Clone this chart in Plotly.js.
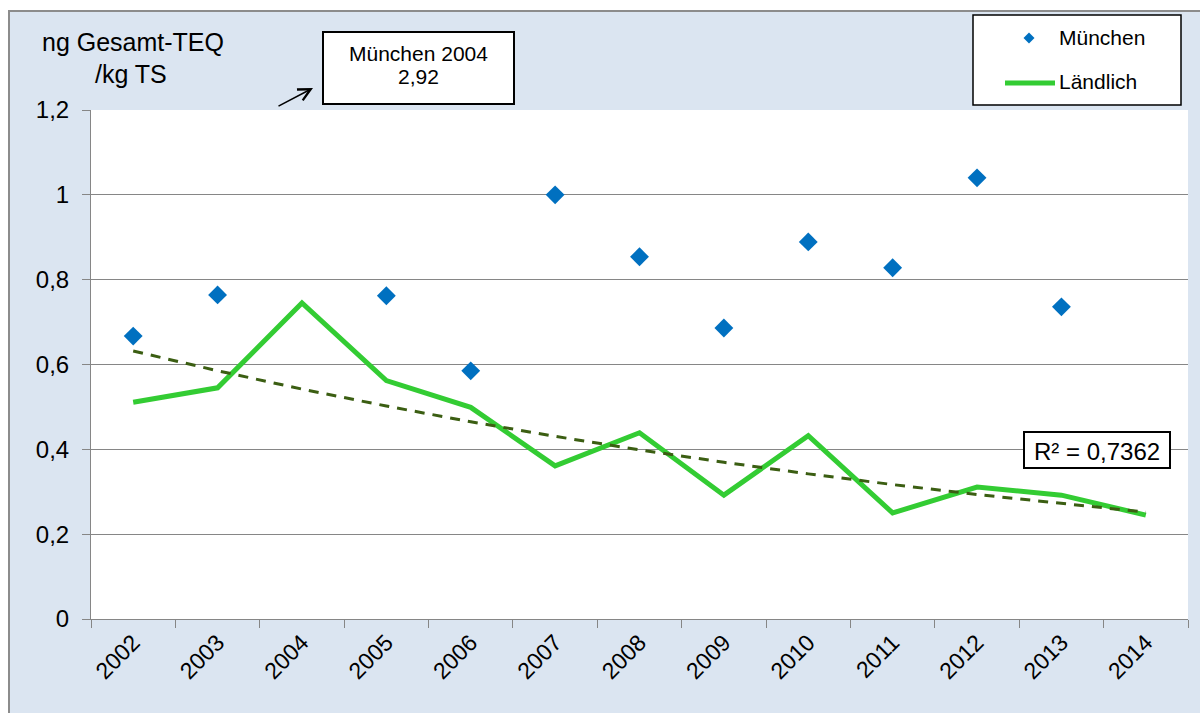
<!DOCTYPE html>
<html>
<head>
<meta charset="utf-8">
<script src="https://cdn.plot.ly/plotly-3.0.1.min.js"></script>
<style>
html,body{margin:0;padding:0;background:#ffffff;overflow:hidden;}
#chart{position:absolute;left:8px;top:10px;width:1192px;height:703px;border-left:2px solid #8c8c8c;border-top:2px solid #8c8c8c;}
</style>
</head>
<body>
<div id="chart"></div>
<script>
const years = ['2002','2003','2004','2005','2006','2007','2008','2009','2010','2011','2012','2013','2014'];
const muenchen = [0.667, 0.764, null, 0.762, 0.585, 1.0, 0.854, 0.686, 0.889, 0.828, 1.04, 0.736, null];
const laendlich = [0.511, 0.545, 0.745, 0.562, 0.499, 0.361, 0.439, 0.292, 0.432, 0.25, 0.311, 0.292, 0.245];
const yTickVals = [0, 0.2, 0.4, 0.6, 0.8, 1, 1.2];
const yTickText = ['0', '0,2', '0,4', '0,6', '0,8', '1', '1,2'];
const seriesNames = ['München', 'Ländlich'];
const yTitleLines = ['ng Gesamt-TEQ', '/kg TS'];
const noteLines = ['München 2004', '2,92'];
const rSquaredLabel = 'R² = 0,7362';

// exponential trendline fitted to Ländlich (least squares on ln y)
const idx = laendlich.map((v, i) => i + 1);
const n = idx.length;
const ly = laendlich.map(v => Math.log(v));
const mx = idx.reduce((p, q) => p + q, 0) / n;
const my = ly.reduce((p, q) => p + q, 0) / n;
let sxy = 0, sxx = 0;
for (let i = 0; i < n; i++) { sxy += (idx[i] - mx) * (ly[i] - my); sxx += (idx[i] - mx) ** 2; }
const bcoef = sxy / sxx, acoef = my - bcoef * mx;
const trend = idx.map(x => Math.exp(acoef + bcoef * x));

const FONT = '"Liberation Sans", Arial, sans-serif';
const GREEN = '#33cc33', BLUE = '#0070c0';

// page-pixel -> paper coordinate helpers (plot area: x 91..1188, y 110..619 on page)
const PL = 91, PR = 1188, PT = 110, PB = 619;
const X = px => (px - PL) / (PR - PL);
const Y = py => (PB - py) / (PB - PT);

function textAnno(txt, px, py, size, xanchor) {
  return {xref: 'paper', yref: 'paper', x: X(px), y: Y(py), text: txt, showarrow: false,
          xanchor: xanchor || 'center', yanchor: 'middle', borderpad: 0,
          font: {family: FONT, size: size, color: '#000000'}};
}
function rect(x0, y0, x1, y1, lw) {
  return {type: 'rect', xref: 'paper', yref: 'paper', x0: X(x0), x1: X(x1), y0: Y(y0), y1: Y(y1),
          fillcolor: '#ffffff', line: {color: '#000000', width: lw}, layer: 'above'};
}

const traces = [
  {x: years, y: laendlich, type: 'scatter', mode: 'lines', name: seriesNames[1],
   line: {color: GREEN, width: 5}, showlegend: false},
  {x: years, y: trend, type: 'scatter', mode: 'lines', name: 'Trend',
   line: {color: '#3b5e12', width: 3, dash: '10px,8px'}, showlegend: false},
  {x: years, y: muenchen, type: 'scatter', mode: 'markers', name: seriesNames[0],
   marker: {symbol: 'diamond', size: 14.5, color: BLUE}, showlegend: false}
];

// legend diamond (small) as path
const dcx = 1029, dcy = 38, dr = 5.5;
const diamondPath = 'M' + X(dcx) + ',' + Y(dcy - dr) + ' L' + X(dcx + dr) + ',' + Y(dcy) +
                    ' L' + X(dcx) + ',' + Y(dcy + dr) + ' L' + X(dcx - dr) + ',' + Y(dcy) + ' Z';

const layout = {
  width: 1192, height: 703,
  margin: {l: 81, r: 14, t: 98, b: 96, autoexpand: false},
  paper_bgcolor: '#dbe5f1',
  plot_bgcolor: '#ffffff',
  font: {family: FONT, size: 20, color: '#000000'},
  showlegend: false,
  xaxis: {
    type: 'category', range: [-0.5, 12.5],
    tickson: 'boundaries', ticks: 'outside', ticklen: 8, tickcolor: '#868686',
    showgrid: false, showline: true, linecolor: '#868686', linewidth: 1,
    tickangle: -45, tickfont: {family: FONT, size: 23, color: '#000000'},
    fixedrange: true
  },
  yaxis: {
    range: [0, 1.2], tickvals: yTickVals, ticktext: yTickText,
    ticks: 'outside', ticklen: 8, tickcolor: '#868686', ticklabelstandoff: 8,
    showgrid: true, gridcolor: '#868686', gridwidth: 1,
    showline: true, linecolor: '#868686', linewidth: 1, zeroline: false,
    tickfont: {family: FONT, size: 24, color: '#000000'},
    fixedrange: true
  },
  shapes: [
    rect(973, 15, 1181, 105, 1.5),
    {type: 'line', xref: 'paper', yref: 'paper', x0: X(1005), x1: X(1055), y0: Y(83), y1: Y(83),
     line: {color: GREEN, width: 5}, layer: 'above'},
    {type: 'path', xref: 'paper', yref: 'paper', path: diamondPath, fillcolor: BLUE,
     line: {color: BLUE, width: 0}, layer: 'above'},
    rect(323, 32, 514, 104, 2),
    rect(1024, 432, 1170, 468, 2)
  ],
  annotations: [
    textAnno(yTitleLines[0], 133, 42, 25),
    textAnno(yTitleLines[1], 131, 74, 25),
    textAnno(seriesNames[0], 1058, 38, 21, 'left'),
    textAnno(seriesNames[1], 1058, 81, 21, 'left'),
    textAnno(noteLines[0], 418, 53, 21),
    textAnno(noteLines[1], 418, 77, 21),
    textAnno(rSquaredLabel, 1097, 451, 24),
    {xref: 'paper', yref: 'paper', x: X(313), y: Y(88), text: '', showarrow: true,
     axref: 'pixel', ayref: 'pixel', ax: -36, ay: 19, arrowhead: 5, arrowsize: 1.6,
     arrowwidth: 1.5, arrowcolor: '#000000', standoff: 0}
  ]
};

Plotly.newPlot('chart', traces, layout, {displayModeBar: false, staticPlot: true});
</script>
</body>
</html>
